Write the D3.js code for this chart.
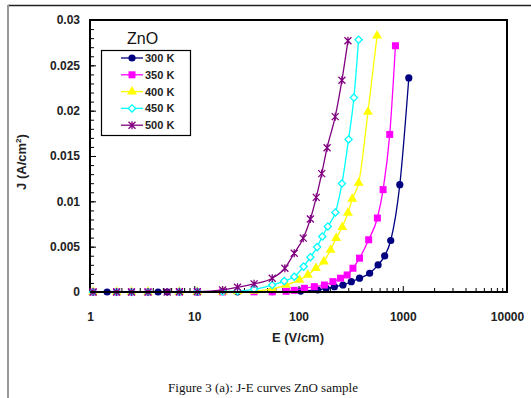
<!DOCTYPE html>
<html>
<head>
<meta charset="utf-8">
<script src="https://cdn.jsdelivr.net/npm/d3@7"></script>
<style>
  body { margin: 0; background: #fff; }
  svg { display: block; }
  .tick text { font-family: "Liberation Sans", Arial, sans-serif; font-weight: bold; font-size: 12px; fill: #222; }
</style>
</head>
<body>
<div id="chart"></div>
<script>
'use strict';

// series labels and colours
const labels = ['300 K', '350 K', '400 K', '450 K', '500 K'];
const colors = ['#000080', '#ff00ff', '#ffff00', '#00ffff', '#800080'];

// E (V/cm) and J (A/cm2)
const e300 = [1.46, 4.5, 5.5, 10.7, 26, 56, 105, 153, 184, 221, 267, 321, 385, 481, 580, 671, 767, 937, 1143];
const j300 = [0, 0, 0, 0.00001, 0.00002, 0.00004, 0.0001, 0.00022, 0.00041, 0.00059, 0.00077, 0.00114, 0.00152, 0.00207, 0.00299, 0.00398, 0.00568, 0.01184, 0.02361];

const e350 = [1.07, 1.8, 2.5, 3.6, 7.2, 10.7, 18.7, 37.5, 56, 76, 91, 114, 142, 177, 214, 253, 293, 333, 385, 471, 571, 648, 750, 851];
const j350 = [0, 0, 0, 0, 0, 0.00001, 0.00001, 0.00002, 0.00002, 0.00008, 0.00018, 0.00041, 0.00059, 0.00077, 0.00114, 0.00152, 0.00188, 0.00262, 0.00373, 0.00576, 0.00816, 0.01129, 0.01738, 0.02716];

const e400 = [1.07, 1.8, 2.5, 3.6, 7.2, 10.7, 18.7, 26, 37.5, 56, 76, 102, 123, 147, 175, 203, 230, 263, 298, 328, 378, 464, 567];
const j400 = [0, 0, 0, 0, 0, 0.00001, 0.00003, 0.00006, 0.00012, 0.00035, 0.00077, 0.00133, 0.00188, 0.00262, 0.00336, 0.00465, 0.00594, 0.00716, 0.00871, 0.01026, 0.01203, 0.01985, 0.02826];

const e450 = [1.07, 1.8, 2.5, 3.6, 7.2, 10.7, 18.7, 26, 37.5, 56, 73, 91, 112, 130, 151, 169, 191, 226, 261, 302, 340, 377];
const j450 = [0, 0, 0, 0, 0.00001, 0.00002, 0.00005, 0.0001, 0.0003, 0.00077, 0.0012, 0.00169, 0.0028, 0.00384, 0.00495, 0.00612, 0.00723, 0.00878, 0.01196, 0.01683, 0.02144, 0.02782];

const e500 = [1.07, 1.8, 2.5, 3.6, 5.5, 7.2, 10.7, 18.7, 26, 37.5, 56, 74, 91, 111, 130, 148, 167, 188, 225, 261, 298];
const j500 = [0, 0, 0, 0, 0, 0.00003, 0.00004, 0.00022, 0.00052, 0.0009, 0.00152, 0.00262, 0.00428, 0.00594, 0.00805, 0.01044, 0.01306, 0.01591, 0.01934, 0.02336, 0.02771];

const xTicks = [1, 10, 100, 1000, 10000];
const yTicks = [0, 0.005, 0.01, 0.015, 0.02, 0.025, 0.03];

const series = [
    { name: labels[0], color: colors[0], e: e300, j: j300, shape: 'circle' },
    { name: labels[1], color: colors[1], e: e350, j: j350, shape: 'square' },
    { name: labels[2], color: colors[2], e: e400, j: j400, shape: 'triangle' },
    { name: labels[3], color: colors[3], e: e450, j: j450, shape: 'diamond' },
    { name: labels[4], color: colors[4], e: e500, j: j500, shape: 'star' }
];

const W = 531, H = 398;
const margin = { top: 20, left: 90, right: 24, bottom: 106 };
const pw = W - margin.left - margin.right;
const ph = H - margin.top - margin.bottom;

const svg = d3.select('#chart').append('svg')
    .attr('width', W)
    .attr('height', H);

// page frame
svg.append('line').attr('x1', 8).attr('x2', W).attr('y1', 5.5).attr('y2', 5.5)
    .attr('stroke', '#222').attr('stroke-width', 1.5);
svg.append('line').attr('x1', 8).attr('x2', 8).attr('y1', 5).attr('y2', H)
    .attr('stroke', '#999').attr('stroke-width', 2);

const x = d3.scaleLog().domain([1, 10000]).range([0, pw]);
const y = d3.scaleLinear().domain([0, 0.03]).range([ph, 0]);

const g = svg.append('g')
    .attr('transform', 'translate(' + [margin.left, margin.top] + ')');

// minor ticks on the log axis
const minorX = [];
for (let d = 1; d < 10000; d *= 10) {
    for (let k = 2; k < 10; k++) minorX.push(d * k);
}
g.append('g')
    .attr('transform', 'translate(0,' + ph + ')')
    .call(d3.axisBottom(x).tickValues(minorX).tickSize(-4).tickFormat(''))
    .call(a => a.select('.domain').remove())
    .selectAll('line').attr('stroke', '#000');

const minorY = d3.range(0, 0.0305, 0.001);
g.append('g')
    .call(d3.axisLeft(y).tickValues(minorY).tickSize(-4).tickFormat(''))
    .call(a => a.select('.domain').remove())
    .selectAll('line').attr('stroke', '#000');

// major axes
g.append('g')
    .attr('transform', 'translate(0,' + ph + ')')
    .call(d3.axisBottom(x).tickValues(xTicks).tickSize(-6).tickPadding(20).tickFormat(d3.format('d')))
    .call(a => a.select('.domain').remove());

g.append('g')
    .call(d3.axisLeft(y).tickValues(yTicks).tickSize(-6).tickPadding(10).tickFormat(d => d === 0 ? '0' : String(+d.toFixed(3))))
    .call(a => a.select('.domain').remove());

// plot box
g.append('rect')
    .attr('width', pw).attr('height', ph)
    .attr('fill', 'none').attr('stroke', '#000').attr('stroke-width', 2);

// curves
const line = d3.line()
    .x(d => x(d[0]))
    .y(d => y(d[1]));

const starPath = 'M-3.5,-3.5L3.5,3.5M-3.5,3.5L3.5,-3.5M0,-4L0,4';

function drawMarker(sel, s, cx, cy) {
    const t = 'translate(' + [cx, cy] + ')';
    if (s.shape === 'circle') {
        sel.append('circle').attr('cx', cx).attr('cy', cy).attr('r', 3.6).attr('fill', s.color);
    } else if (s.shape === 'square') {
        sel.append('rect').attr('x', cx - 3.5).attr('y', cy - 3.5).attr('width', 7).attr('height', 7).attr('fill', s.color);
    } else if (s.shape === 'triangle') {
        sel.append('path').attr('transform', t).attr('d', d3.symbol(d3.symbolTriangle, 42)()).attr('fill', s.color);
    } else if (s.shape === 'diamond') {
        sel.append('path').attr('transform', t).attr('d', 'M0,-3.6L3.6,0L0,3.6L-3.6,0Z')
            .attr('fill', '#fff').attr('stroke', s.color).attr('stroke-width', 1.3);
    } else {
        sel.append('path').attr('transform', t).attr('d', starPath)
            .attr('fill', 'none').attr('stroke', s.color).attr('stroke-width', 1.3);
    }
}

series.forEach(s => {
    const pts = s.e.map((e, i) => [e, s.j[i]]);
    const sg = g.append('g');
    sg.append('path')
        .datum(pts)
        .attr('d', line.curve(d3.curveMonotoneX))
        .attr('fill', 'none')
        .attr('stroke', s.color)
        .attr('stroke-width', 1.3);
    pts.forEach(p => drawMarker(sg, s, x(p[0]), y(p[1])));
});

// bottom axis line drawn over the markers
g.append('line').attr('x1', 0).attr('x2', pw).attr('y1', ph).attr('y2', ph)
    .attr('stroke', '#000').attr('stroke-width', 2);

// legend
svg.append('text')
    .attr('x', 127).attr('y', 44)
    .attr('font-family', '"Liberation Sans", Arial, sans-serif')
    .attr('font-size', 16)
    .attr('fill', '#111')
    .text('ZnO');

svg.append('rect')
    .attr('x', 101.5).attr('y', 50.5).attr('width', 89).attr('height', 85)
    .attr('fill', '#fff').attr('stroke', '#000').attr('stroke-width', 1.2);

series.forEach((s, i) => {
    const ly = 58 + i * 16.8;
    const lg = svg.append('g');
    lg.append('line').attr('x1', 121).attr('x2', 143).attr('y1', ly).attr('y2', ly)
        .attr('stroke', s.color).attr('stroke-width', 1.3);
    drawMarker(lg, s, 132, ly);
    lg.append('text')
        .attr('x', 145).attr('y', ly + 4)
        .attr('font-family', '"Liberation Sans", Arial, sans-serif')
        .attr('font-weight', 'bold')
        .attr('font-size', 11)
        .attr('fill', '#222')
        .text(s.name);
});

// axis titles
svg.append('text')
    .attr('x', 298).attr('y', 342)
    .attr('text-anchor', 'middle')
    .attr('font-family', '"Liberation Sans", Arial, sans-serif')
    .attr('font-weight', 'bold')
    .attr('font-size', 13)
    .attr('fill', '#222')
    .text('E (V/cm)');

const yt = svg.append('text')
    .attr('transform', 'translate(26,162) rotate(-90)')
    .attr('text-anchor', 'middle')
    .attr('font-family', '"Liberation Sans", Arial, sans-serif')
    .attr('font-weight', 'bold')
    .attr('font-size', 13)
    .attr('fill', '#222');
yt.append('tspan').text('J (A/cm');
yt.append('tspan').attr('dy', -5).attr('font-size', 8).text('2');
yt.append('tspan').attr('dy', 5).text(')');

// caption
svg.append('text')
    .attr('x', 263).attr('y', 392)
    .attr('text-anchor', 'middle')
    .attr('font-family', '"Liberation Serif", "Times New Roman", serif')
    .attr('font-size', 13)
    .attr('fill', '#111')
    .text('Figure 3 (a): J-E curves ZnO sample');
</script>
</body>
</html>
